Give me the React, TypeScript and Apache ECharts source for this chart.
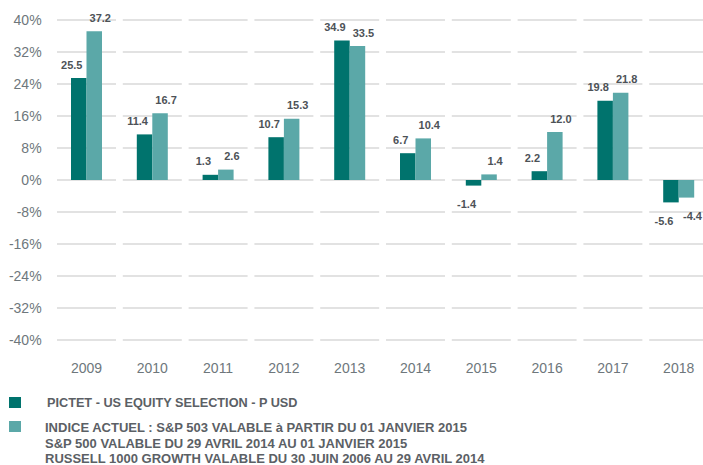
import React, { useEffect, useRef } from "react";
import * as echarts from "echarts";

const years = ["2009", "2010", "2011", "2012", "2013", "2014", "2015", "2016", "2017", "2018"];
const fundValues = [25.5, 11.4, 1.3, 10.7, 34.9, 6.7, -1.4, 2.2, 19.8, -5.6];
const indexValues = [37.2, 16.7, 2.6, 15.3, 33.5, 10.4, 1.4, 12.0, 21.8, -4.4];
const yTicks = [-40, -32, -24, -16, -8, 0, 8, 16, 24, 32, 40];
const fundName = "PICTET - US EQUITY SELECTION - P USD";
const indexNameLines = [
  "INDICE ACTUEL : S&P 503 VALABLE à PARTIR DU 01 JANVIER 2015",
  "S&P 500 VALABLE DU 29 AVRIL 2014 AU 01 JANVIER 2015",
  "RUSSELL 1000 GROWTH VALABLE DU 30 JUIN 2006 AU 29 AVRIL 2014",
];

const DARK = "#00736d";
const LIGHT = "#5ba8a8";
const FONT = "Liberation Sans, Arial, sans-serif";

function barData(values: number[], offsetX: number) {
  return values.map((v) => ({
    value: v,
    label: {
      position: v < 0 ? "bottom" : "top",
      distance: v < 0 ? 13 : 8,
      offset: [offsetX, 0],
    },
  }));
}

export default function App() {
  const ref = useRef<HTMLDivElement>(null);
  useEffect(() => {
    if (!ref.current) return;
    const chart = echarts.init(ref.current, null, { renderer: "svg" });
    const labelStyle = {
      show: true,
      fontFamily: FONT,
      fontSize: 11,
      fontWeight: "bold" as const,
      color: "#4d5257",
      formatter: (p: any) => Number(p.value).toFixed(1),
    };
    chart.setOption({
      animation: false,
      backgroundColor: "#ffffff",
      grid: { left: 53.6, top: 20, width: 658, height: 320, containLabel: false },
      xAxis: {
        type: "category",
        data: years,
        axisLine: { show: false },
        axisTick: { show: false },
        axisLabel: { color: "#6e777c", fontSize: 14, fontFamily: FONT, margin: 21 },
        splitLine: { show: false },
      },
      yAxis: {
        type: "value",
        min: -40,
        max: 40,
        interval: 8,
        axisLine: { show: false },
        axisTick: { show: false },
        splitLine: { show: false },
        axisLabel: {
          color: "#6e777c",
          fontSize: 14,
          fontFamily: FONT,
          margin: 12,
          formatter: (v: number) => `${v}%`,
        },
      },
      series: [
        {
          type: "custom",
          silent: true,
          z: 0,
          data: years.map((_, i) => [i]),
          encode: { x: 0 },
          renderItem: (params: any, api: any) => {
            const idx = api.value(0);
            const band = api.size([1, 0])[0];
            const half = band / 2 - 3.4;
            const children = yTicks.map((t) => {
              const c = api.coord([idx, t]);
              return {
                type: "line",
                shape: { x1: c[0] - half, y1: c[1], x2: c[0] + half, y2: c[1] },
                style: { stroke: "#d9d9d9", lineWidth: 1.5 },
              };
            });
            return { type: "group", children };
          },
        },
        {
          type: "bar",
          name: fundName,
          data: barData(fundValues, -7),
          barWidth: 15.5,
          barGap: "0%",
          itemStyle: { color: DARK },
          label: labelStyle,
          z: 2,
        },
        {
          type: "bar",
          name: "index",
          data: barData(indexValues, 6),
          barWidth: 15.5,
          barGap: "0%",
          itemStyle: { color: LIGHT },
          label: labelStyle,
          z: 2,
        },
      ],
      graphic: [
        { type: "rect", left: 9, top: 397, shape: { width: 12, height: 11 }, style: { fill: DARK } },
        { type: "rect", left: 9, top: 421, shape: { width: 12, height: 11 }, style: { fill: LIGHT } },
        {
          type: "text",
          left: 47,
          top: 396,
          style: {
            text: fundName,
            fontFamily: FONT,
            fontSize: 12.7,
            fontWeight: "bold",
            fill: "#5b6065",
          },
        },
        {
          type: "text",
          left: 45,
          top: 420,
          style: {
            text: indexNameLines.join("\n"),
            fontFamily: FONT,
            fontSize: 13,
            lineHeight: 15.4,
            fontWeight: "bold",
            fill: "#5b6065",
          },
        },
      ],
    });
    return () => chart.dispose();
  }, []);
  return (
    <div
      style={{
        position: "fixed",
        left: 0,
        top: 0,
        width: 703,
        height: 465,
        overflow: "hidden",
        background: "#fff",
      }}
    >
      <div ref={ref} style={{ width: 720, height: 465 }} />
    </div>
  );
}
